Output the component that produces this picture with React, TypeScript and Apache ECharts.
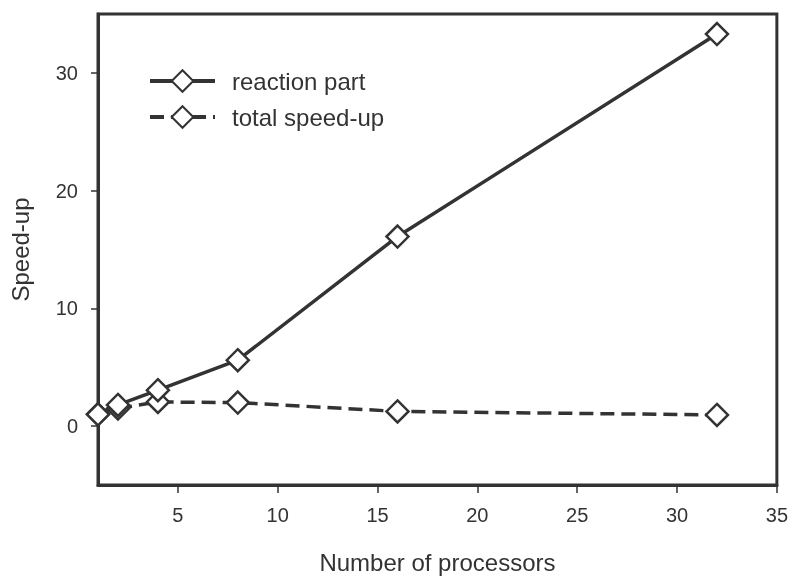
import React, { useEffect, useRef } from "react";
import * as echarts from "echarts";

const processors = [1, 2, 4, 8, 16, 32];
const reactionPart = [1.0, 1.8, 3.05, 5.6, 16.1, 33.3];
const totalSpeedup = [1.0, 1.5, 2.05, 2.0, 1.25, 0.95];
const xTicks = [5, 10, 15, 20, 25, 30, 35];
const yTicks = [0, 10, 20, 30];

const ink = "#333333";
const font = "Liberation Sans, Arial, sans-serif";

export default function App() {
  const ref = useRef<HTMLDivElement>(null);
  useEffect(() => {
    if (!ref.current) return;
    const chart = echarts.init(ref.current, null, { renderer: "svg" });
    const mk = (vals: number[]) => processors.map((p, i) => [p, vals[i]]);
    chart.setOption({
      animation: false,
      textStyle: { fontFamily: font, color: ink },
      grid: { left: 96, top: 14, right: 14, bottom: 88, show: true, borderColor: ink, borderWidth: 3 },
      legend: {
        orient: "vertical",
        left: 143,
        top: 64,
        itemWidth: 65,
        itemHeight: 27,
        itemGap: 12,
        lineStyle: { width: 4 },
        textStyle: { fontFamily: font, fontSize: 24, color: ink, padding: [0, 0, 0, 12] },
        data: ["reaction part", "total speed-up"],
      },
      xAxis: {
        type: "value",
        min: 1,
        max: 35,
        name: "Number of processors",
        nameLocation: "middle",
        nameGap: 65,
        nameTextStyle: { fontSize: 24, color: ink, fontFamily: font },
        axisLine: { show: true, onZero: false, lineStyle: { color: ink, width: 3 } },
        axisTick: { show: true, inside: false, length: 8, customValues: xTicks, lineStyle: { color: ink, width: 1.5 } },
        axisLabel: { customValues: xTicks, fontSize: 20, color: ink, margin: 20, fontFamily: font },
        splitLine: { show: false },
      },
      yAxis: {
        type: "value",
        min: -5,
        max: 35,
        name: "Speed-up",
        nameLocation: "middle",
        nameGap: 66,
        nameRotate: 90,
        nameTextStyle: { fontSize: 24, color: ink, fontFamily: font },
        axisLine: { show: true, onZero: false, lineStyle: { color: ink, width: 3 } },
        axisTick: { show: true, inside: false, length: 7, customValues: yTicks, lineStyle: { color: ink, width: 1.5 } },
        axisLabel: { customValues: yTicks, fontSize: 20, color: ink, margin: 20, fontFamily: font },
        splitLine: { show: false },
      },
      series: [
        {
          name: "reaction part",
          type: "line",
          data: mk(reactionPart),
          symbol: "diamond",
          symbolSize: 22,
          itemStyle: { color: "#ffffff", borderColor: ink, borderWidth: 2.5 },
          lineStyle: { color: ink, width: 3.5, type: "solid" },
          z: 3,
        },
        {
          name: "total speed-up",
          type: "line",
          data: mk(totalSpeedup),
          symbol: "diamond",
          symbolSize: 22,
          itemStyle: { color: "#ffffff", borderColor: ink, borderWidth: 2.5 },
          lineStyle: { color: ink, width: 3.5, type: [14, 7] },
          z: 2,
        },
      ],
    });
    return () => chart.dispose();
  }, []);
  return <div ref={ref} style={{ position: "fixed", left: 0, top: 0, width: 791, height: 579 }} />;
}
